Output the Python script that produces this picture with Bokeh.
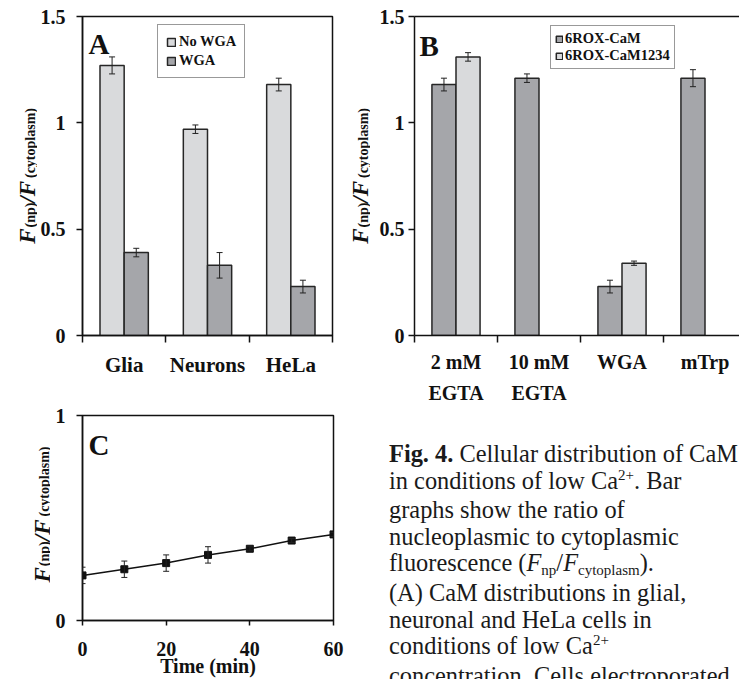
import math
from bokeh.plotting import figure
from bokeh.models import (Range1d, FixedTicker, LinearAxis, Label, Legend, LegendItem,
                          Whisker, ColumnDataSource, TeeHead, Div)
from bokeh.layouts import row, column
from bokeh.core.properties import value
from bokeh.embed import file_html
from bokeh.resources import INLINE

# ---------------- data ----------------
a_categories = ["Glia", "Neurons", "HeLa"]
a_no_wga = [1.27, 0.97, 1.18]
a_no_wga_err = [0.04, 0.02, 0.03]
a_wga = [0.39, 0.33, 0.23]
a_wga_err = [0.02, 0.06, 0.03]

b_label_line1 = ["2 mM", "10 mM", "WGA", "mTrp"]
b_label_line2 = ["EGTA", "EGTA", "", ""]
b_cam = [1.18, 1.21, 0.23, 1.21]
b_cam_err = [0.03, 0.02, 0.03, 0.04]
b_cam1234 = [1.31, None, 0.34, None]
b_cam1234_err = [0.02, None, 0.01, None]

c_time = [0, 10, 20, 30, 40, 50, 60]
c_ratio = [0.22, 0.25, 0.28, 0.32, 0.35, 0.39, 0.42]
c_err = [0.04, 0.04, 0.04, 0.04, 0.01, 0.01, 0.01]

ab_y_ticks = [0, 0.5, 1, 1.5]
ab_y_tick_labels = ["0", "0.5", "1", "1.5"]
c_x_ticks = [0, 20, 40, 60]
c_y_ticks = [0, 1]

# ---------------- style ----------------
SERIF = "Liberation Serif"
LIGHT = "#d9dadc"
DARK = "#a5a6aa"
EDGE = "#262626"
INK = "#111111"


def mapper(p0, p1, d0, d1):
    return lambda px: d0 + (px - p0) * (d1 - d0) / (p1 - p0)


def make_fig(w, h, xr, yr, left, right, top, bottom):
    p = figure(width=w, height=h, x_range=xr, y_range=yr, output_backend="svg",
               toolbar_location=None, x_axis_type=None, y_axis_type=None,
               min_border_left=left, min_border_right=right,
               min_border_top=top, min_border_bottom=bottom)
    p.outline_line_color = None
    p.background_fill_color = "white"
    p.border_fill_color = "white"
    return p


def style_axis(ax, size):
    ax.axis_line_color = INK
    ax.axis_line_width = 1.5
    ax.major_tick_line_color = INK
    ax.major_tick_line_width = 1.5
    ax.major_tick_in = 0
    ax.major_tick_out = 6
    ax.minor_tick_line_color = None
    ax.major_label_text_font = SERIF
    ax.major_label_text_font_style = "bold"
    ax.major_label_text_font_size = size
    ax.major_label_text_color = INK


def value_axis(p, ticks, labels, size, standoff):
    ax = LinearAxis(ticker=FixedTicker(ticks=ticks),
                    major_label_overrides={t: s for t, s in zip(ticks, labels)})
    style_axis(ax, size)
    ax.major_label_standoff = standoff
    p.add_layout(ax, "left")


def category_axis(p, labels, size, standoff, with_line=True):
    n = len(labels)
    centers = [i + 0.5 for i in range(n)]
    ax = LinearAxis(ticker=FixedTicker(ticks=centers, minor_ticks=list(range(n + 1))),
                    major_label_overrides={c: t for c, t in zip(centers, labels)})
    style_axis(ax, size)
    ax.major_tick_line_color = None
    ax.major_tick_out = 0
    if with_line:
        ax.minor_tick_line_color = INK
        ax.minor_tick_line_width = 1.5
        ax.minor_tick_in = 0
        ax.minor_tick_out = 7
    else:
        ax.axis_line_color = None
    ax.major_label_standoff = standoff
    p.add_layout(ax, "below")


def bars(p, xs, vals, errs, color):
    src = ColumnDataSource(dict(x=xs, top=vals,
                                upper=[v + e for v, e in zip(vals, errs)],
                                lower=[v - e for v, e in zip(vals, errs)]))
    r = p.vbar(x="x", top="top", bottom=0, width=0.29, source=src,
               fill_color=color, line_color=EDGE, line_width=1.5)
    p.add_layout(Whisker(source=src, base="x", upper="upper", lower="lower",
                         line_color="#222222", line_width=1, level="overlay",
                         upper_head=TeeHead(size=6, line_color="#222222", line_width=1),
                         lower_head=TeeHead(size=6, line_color="#222222", line_width=1)))
    return r


def y_label(p, base_x, start_y, sub_dx=3):
    # rotated axis title F(np)/F(cytoplasm), drawn in a narrow figure whose data units are page pixels
    big, small = 23, 14
    pieces = [("F", big, "bold italic", 0.667, 0, 1),
              ("(np)", small, "bold", 1.778, sub_dx, 0),
              ("/", big, "bold italic", 0.278, 0, 0),
              ("F", big, "bold italic", 0.667, 0, 3),
              ("(cytoplasm)", small, "bold", 4.999, sub_dx, 0)]
    xs, ys, ts, fs, st = [], [], [], [], []
    y = start_y
    for text, size, style, em, dx, gap in pieces:
        xs.append(base_x + dx)
        ys.append(y)
        ts.append(text)
        fs.append(f"{size}px")
        st.append(style)
        y -= em * size + gap
    src = ColumnDataSource(dict(x=xs, y=ys, text=ts, size=fs, style=st))
    p.text(x="x", y="y", text="text", source=src, angle=math.pi / 2,
           text_font=value(SERIF), text_font_size="size", text_font_style="style",
           text_color=INK, text_align="left", text_baseline="alphabetic")


def panel_letter(p, fx, fy, x, y, letter):
    p.add_layout(Label(x=fx(x), y=fy(y), text=letter, text_font=SERIF,
                       text_font_size="29px", text_font_style="bold", text_color=INK,
                       text_align="left", text_baseline="alphabetic"))


def legend(p, items, loc, size, glyph, standoff, padding, spacing, label_h):
    lg = Legend(items=[LegendItem(label=t, renderers=[r]) for t, r in items],
                location=loc, margin=0, padding=padding, spacing=spacing,
                glyph_width=glyph, glyph_height=glyph, label_standoff=standoff,
                label_height=label_h, label_text_font=SERIF,
                label_text_font_style="bold", label_text_font_size=size,
                label_text_color=INK, border_line_color="#333333",
                border_line_width=1.5, background_fill_color="white",
                background_fill_alpha=1.0)
    p.add_layout(lg)


# row 1 geometry (page pixels): frames from y=16 to y=336
R1_H, R1_TOP, R1_BOT = 406, 16, 70

# ---------------- y-label strip for A (page x 0..37) ----------------
pLA = make_fig(37, R1_H, Range1d(0, 37), Range1d(336, 16), 0, 0, R1_TOP, R1_BOT)
y_label(pLA, 27, 244)

# ---------------- panel A (page x 37..336, frame 82..332) ----------------
pA = make_fig(299, R1_H, Range1d(0, 3), Range1d(0, 1.5), 45, 4, R1_TOP, R1_BOT)
pA.outline_line_color = INK
pA.outline_line_width = 1.5
fxA = mapper(82, 332, 0, 3)
fyA = mapper(336, 16, 0, 1.5)
centA = [i + 0.5 for i in range(len(a_categories))]
rA1 = bars(pA, [c - 0.145 for c in centA], a_no_wga, a_no_wga_err, LIGHT)
rA2 = bars(pA, [c + 0.145 for c in centA], a_wga, a_wga_err, DARK)
value_axis(pA, ab_y_ticks, ab_y_tick_labels, "20px", 11)
category_axis(pA, a_categories, "21px", 10)
legend(pA, [("No WGA", rA1), ("WGA", rA2)], (75, 257), "14.5px", 10, 3, 8, 2, 15)
panel_letter(pA, fxA, fyA, 88, 44, "A")

# ---------------- y-label strip for B (page x 336..370) ----------------
pLB = make_fig(34, R1_H, Range1d(336, 370), Range1d(336, 16), 0, 0, R1_TOP, R1_BOT)
y_label(pLB, 360, 244)

# ---------------- panel B (page x 370..739, frame from 414) ----------------
pB = make_fig(369, R1_H, Range1d(0, 325 / 83), Range1d(0, 1.5), 44, 0, R1_TOP, R1_BOT)
fxB = mapper(414, 497, 0, 1)
fyB = mapper(336, 16, 0, 1.5)
centB = [i + 0.5 for i in range(len(b_label_line1))]
rB1 = bars(pB, [c - 0.145 for c in centB], b_cam, b_cam_err, DARK)
idx = [i for i, v in enumerate(b_cam1234) if v is not None]
rB2 = bars(pB, [centB[i] + 0.145 for i in idx], [b_cam1234[i] for i in idx],
           [b_cam1234_err[i] for i in idx], LIGHT)
value_axis(pB, ab_y_ticks, ab_y_tick_labels, "20px", 4)
category_axis(pB, b_label_line1, "20px", 8)
category_axis(pB, b_label_line2, "20px", 2, with_line=False)
top_ax = LinearAxis(ticker=FixedTicker(ticks=[]), major_label_text_font_size="0px",
                    major_tick_line_color=None, minor_tick_line_color=None,
                    axis_line_color=INK, axis_line_width=1.5)
pB.add_layout(top_ax, "above")
legend(pB, [("6ROX-CaM", rB1), ("6ROX-CaM1234", rB2)], (136, 266), "14.5px", 8, 2, 4, 0, 15)
panel_letter(pB, fxB, fyB, 419, 46, "B")

# row 2 geometry: frame from y=415 to y=620 (page pixels)
R2_H, R2_TOP, R2_BOT = 273, 9, 59

# ---------------- y-label strip for C ----------------
pLC = make_fig(50, R2_H, Range1d(0, 50), Range1d(620, 415), 0, 0, R2_TOP, R2_BOT)
y_label(pLC, 42, 582, sub_dx=2)

# ---------------- panel C ----------------
pC = make_fig(330, R2_H, Range1d(0, 60), Range1d(0, 1), 32, 47, R2_TOP, R2_BOT)
pC.outline_line_color = INK
pC.outline_line_width = 1.5
fxC = mapper(82, 333, 0, 60)
fyC = mapper(620, 415, 0, 1)
srcC = ColumnDataSource(dict(x=c_time, y=c_ratio,
                             upper=[v + e for v, e in zip(c_ratio, c_err)],
                             lower=[v - e for v, e in zip(c_ratio, c_err)]))
pC.line("x", "y", source=srcC, line_color=INK, line_width=1.5)
pC.add_layout(Whisker(source=srcC, base="x", upper="upper", lower="lower",
                      line_color="#222222", line_width=1, level="overlay",
                      upper_head=TeeHead(size=6, line_color="#222222", line_width=1),
                      lower_head=TeeHead(size=6, line_color="#222222", line_width=1)))
pC.scatter("x", "y", source=srcC, marker="square", size=7, fill_color=INK, line_color=INK)
cxa = LinearAxis(ticker=FixedTicker(ticks=c_x_ticks))
style_axis(cxa, "20px")
cxa.major_tick_out = 5
cxa.major_label_standoff = 16
cxa.axis_label = "Time (min)"
cxa.axis_label_text_font = SERIF
cxa.axis_label_text_font_style = "bold"
cxa.axis_label_text_font_size = "20px"
cxa.axis_label_text_color = INK
cxa.axis_label_standoff = -4
pC.add_layout(cxa, "below")
value_axis(pC, c_y_ticks, ["0", "1"], "20px", 11)
panel_letter(pC, fxC, fyC, 88, 444, "C")

# ---------------- caption ----------------
SUP = '<span style="font-size:15px; position:relative; top:-9px;">2+</span>'


def sub(t):
    return f'<span style="font-size:15px; position:relative; top:4px;">{t}</span>'


caption_lines = [
    "<b>Fig. 4.</b> Cellular distribution of CaM",
    f"in conditions of low Ca{SUP}. Bar",
    "graphs show the ratio of",
    "nucleoplasmic to cytoplasmic",
    f"fluorescence (<i>F</i>{sub('np')}/<i>F</i>{sub('cytoplasm')}).",
    "(A) CaM distributions in glial,",
    "neuronal and HeLa cells in",
    f"conditions of low Ca{SUP}",
    "concentration. Cells electroporated",
]
cap_html = ('<div style="font-family:\'Liberation Serif\',serif; font-size:24.4px; '
            'line-height:26.6px; color:#1a1a1a; white-space:nowrap; margin:0; '
            'padding:35px 0 0 9px;">' + "<br>".join(caption_lines) + "</div>")
cap = Div(text=cap_html, width=359, height=R2_H,
          styles={"overflow": "hidden", "margin": "0", "font-family": "Liberation Serif"})

layout = column(row(pLA, pA, pLB, pB), row(pLC, pC, cap))
open("out.html", "w").write(file_html(layout, INLINE, title="Fig. 4"))
